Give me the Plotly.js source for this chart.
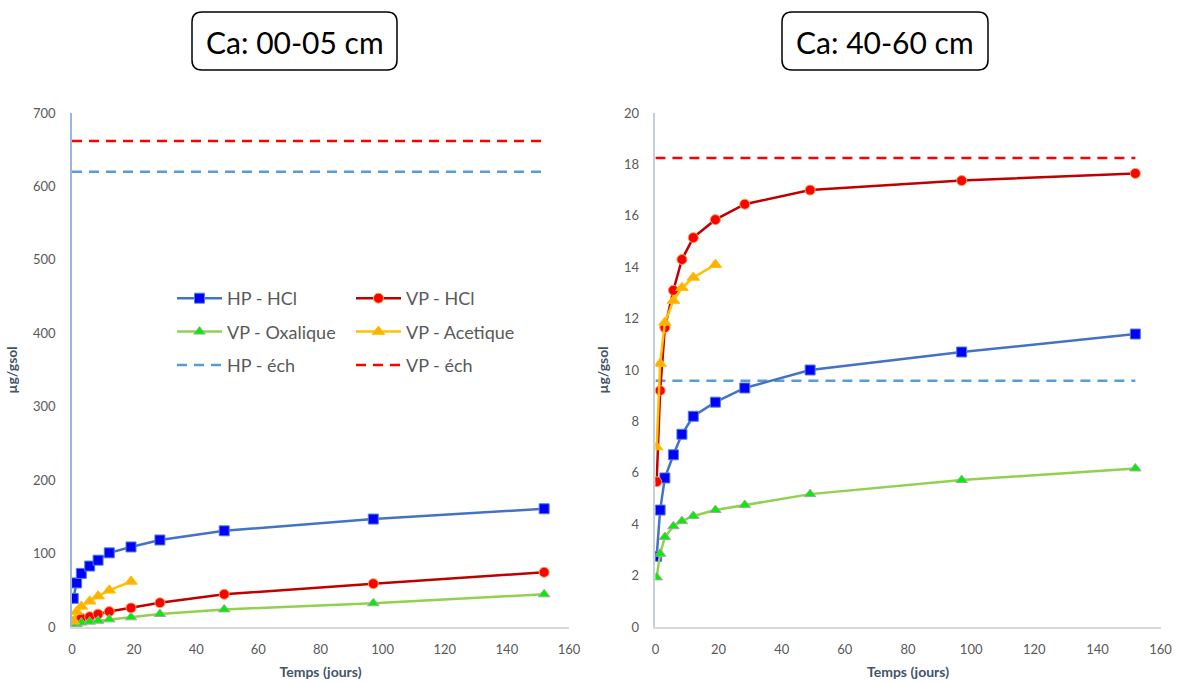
<!DOCTYPE html>
<html>
<head>
<meta charset="utf-8">
<script src="https://cdn.plot.ly/plotly-3.0.1.min.js"></script>
<style>html,body{margin:0;padding:0;background:#fff;}#chart{width:1180px;height:684px;}</style>
</head>
<body>
<div id="chart"></div>
<script>
// ---- data ----
const days = [0.4, 1.5, 3, 5.7, 8.4, 12, 19, 28.3, 49, 97, 152];
const daysAcetique = [0.4, 1.5, 3, 5.7, 8.4, 12, 19];
const daysEch = [0, 152];

// Ca: 00-05 cm
const hpHcl_0005 = [39, 60, 73, 83, 91, 101, 109, 118.5, 131, 147, 161];
const vpHcl_0005 = [6, 9, 12, 14, 17.5, 21, 26, 33, 44.5, 59, 74.5];
const vpOxalique_0005 = [2, 4, 6, 7.3, 8.6, 10.4, 13.2, 17.7, 24, 32.3, 44.5];
const vpAcetique_0005 = [8, 21, 28, 35, 42, 50, 62];
const hpEch_0005 = [620, 620];
const vpEch_0005 = [662, 662];

// Ca: 40-60 cm
const hpHcl_4060 = [2.75, 4.55, 5.8, 6.7, 7.5, 8.2, 8.75, 9.3, 10.0, 10.7, 11.4];
const vpHcl_4060 = [5.65, 9.2, 11.65, 13.1, 14.3, 15.15, 15.85, 16.45, 17.0, 17.37, 17.65];
const vpOxalique_4060 = [1.93, 2.85, 3.5, 3.92, 4.12, 4.32, 4.55, 4.75, 5.17, 5.72, 6.17];
const vpAcetique_4060 = [7.0, 10.25, 11.85, 12.7, 13.2, 13.6, 14.1];
const hpEch_4060 = [9.58, 9.58];
const vpEch_4060 = [18.25, 18.25];

const seriesNames = ['HP - HCl', 'VP - HCl', 'VP - Oxalique', 'VP - Acetique', 'HP - éch', 'VP - éch'];
const panelTitles = ['Ca: 00-05 cm', 'Ca: 40-60 cm'];
const xTitle = 'Temps (jours)';
const yTitle = 'µg/gsol';

// ---- styles ----
const W = 1180, H = 684;
const FONT = 'Lato, "Open Sans", "Liberation Sans", sans-serif';
const styles = [
  {line: {color: '#4472C4', width: 2.5}, marker: {symbol: 'square', size: 10, color: '#0000FF', line: {color: '#4F81D0', width: 1}}},
  {line: {color: '#C00000', width: 2.5}, marker: {symbol: 'circle', size: 10, color: '#FF0000', line: {color: '#F4A24C', width: 1}}},
  {line: {color: '#92D050', width: 2.5}, marker: {symbol: 'triangle-up', size: 10, color: '#00F000', line: {color: '#A5A5A5', width: 1}}},
  {line: {color: '#FFC000', width: 2.5}, marker: {symbol: 'triangle-up', size: 11, color: '#FFB000', line: {color: '#FFC000', width: 1}}},
  {line: {color: '#5B9BD5', width: 2.5, dash: '10px,7px'}},
  {line: {color: '#FF0000', width: 2.5, dash: '10px,7px'}}
];
const legendOf = ['legend', 'legend2', 'legend', 'legend2', 'legend', 'legend2'];

function mk(i, x, y, xa, ya, show) {
  const t = {
    type: 'scatter', x: x, y: y, name: seriesNames[i], xaxis: xa, yaxis: ya,
    mode: i >= 4 ? 'lines' : 'lines+markers', line: styles[i].line,
    showlegend: show, legend: legendOf[i], legendgroup: 'g' + i, hoverinfo: 'x+y+name'
  };
  if (styles[i].marker) t.marker = styles[i].marker;
  return t;
}

const data = [
  mk(0, days, hpHcl_0005, 'x', 'y', true),
  mk(1, days, vpHcl_0005, 'x', 'y', true),
  mk(2, days, vpOxalique_0005, 'x', 'y', true),
  mk(3, daysAcetique, vpAcetique_0005, 'x', 'y', true),
  mk(4, daysEch, hpEch_0005, 'x', 'y', true),
  mk(5, daysEch, vpEch_0005, 'x', 'y', true),
  mk(4, daysEch, hpEch_4060, 'x2', 'y2', false),
  mk(5, daysEch, vpEch_4060, 'x2', 'y2', false),
  mk(0, days, hpHcl_4060, 'x2', 'y2', false),
  mk(1, days, vpHcl_4060, 'x2', 'y2', false),
  mk(2, days, vpOxalique_4060, 'x2', 'y2', false),
  mk(3, daysAcetique, vpAcetique_4060, 'x2', 'y2', false)
];

const px = v => v / W;
const py = v => 1 - v / H;

function roundRect(x0, y0, x1, y1, r) {
  const P = (x, y) => px(x) + ',' + py(y);
  return 'M' + P(x0 + r, y0) + ' L' + P(x1 - r, y0) + ' Q' + P(x1, y0) + ' ' + P(x1, y0 + r) +
    ' L' + P(x1, y1 - r) + ' Q' + P(x1, y1) + ' ' + P(x1 - r, y1) +
    ' L' + P(x0 + r, y1) + ' Q' + P(x0, y1) + ' ' + P(x0, y1 - r) +
    ' L' + P(x0, y0 + r) + ' Q' + P(x0, y0) + ' ' + P(x0 + r, y0) + ' Z';
}

const tickFont = {family: FONT, size: 13, color: '#595959'};
const titleFont = {family: FONT, size: 14, color: '#44546A', weight: 'bold'};
function xAxis(domain, anchor) {
  return {domain: domain, anchor: anchor, range: [0, 160], tick0: 0, dtick: 20, showgrid: false, zeroline: false,
    showline: true, linecolor: '#D9D9D9', linewidth: 1.5, ticks: '', tickfont: tickFont, ticklabelstandoff: 10,
    title: {text: xTitle, font: titleFont, standoff: 11}, fixedrange: true};
}
function yAxis(domain, anchor, range, dtick, lc) {
  return {domain: domain, anchor: anchor, range: range, dtick: dtick, showgrid: false, zeroline: false,
    showline: true, linecolor: lc, linewidth: 1.5, ticks: '', tickfont: tickFont, ticklabelstandoff: 12,
    title: {text: yTitle, font: titleFont, standoff: 12}, fixedrange: true};
}

const yDom = [57 / H, 571 / H];
const legendFont = {family: FONT, size: 18, color: '#595959'};
const layout = {
  width: W, height: H,
  margin: {l: 0, r: 0, t: 0, b: 0},
  paper_bgcolor: '#FFFFFF', plot_bgcolor: '#FFFFFF',
  font: {family: FONT, color: '#595959'},
  xaxis: xAxis([px(72), px(569)], 'y'),
  yaxis: yAxis(yDom, 'x', [0, 700], 100, '#9DB5D8'),
  xaxis2: xAxis([px(655.4), px(1160.6)], 'y2'),
  yaxis2: yAxis(yDom, 'x2', [0, 20], 2, '#C5CEDB'),
  legend: {x: px(172), y: py(280), xanchor: 'left', yanchor: 'top', bgcolor: 'rgba(0,0,0,0)',
    font: legendFont, itemwidth: 45, tracegroupgap: 7, traceorder: 'grouped'},
  legend2: {x: px(351), y: py(280), xanchor: 'left', yanchor: 'top', bgcolor: 'rgba(0,0,0,0)',
    font: legendFont, itemwidth: 45, tracegroupgap: 7, traceorder: 'grouped'},
  shapes: [
    {type: 'path', xref: 'paper', yref: 'paper', path: roundRect(192, 12, 397, 70, 10), line: {color: '#000000', width: 1.5}, fillcolor: 'rgba(0,0,0,0)'},
    {type: 'path', xref: 'paper', yref: 'paper', path: roundRect(782, 12, 988, 70, 10), line: {color: '#000000', width: 1.5}, fillcolor: 'rgba(0,0,0,0)'}
  ],
  annotations: [
    {text: panelTitles[0], xref: 'paper', yref: 'paper', x: px(294.5), y: py(42), xanchor: 'center', yanchor: 'middle', showarrow: false,
      font: {family: FONT, size: 30, color: '#000000'}},
    {text: panelTitles[1], xref: 'paper', yref: 'paper', x: px(885), y: py(42), xanchor: 'center', yanchor: 'middle', showarrow: false,
      font: {family: FONT, size: 30, color: '#000000'}}
  ]
};

Plotly.newPlot('chart', data, layout, {displayModeBar: false});
</script>
</body>
</html>
